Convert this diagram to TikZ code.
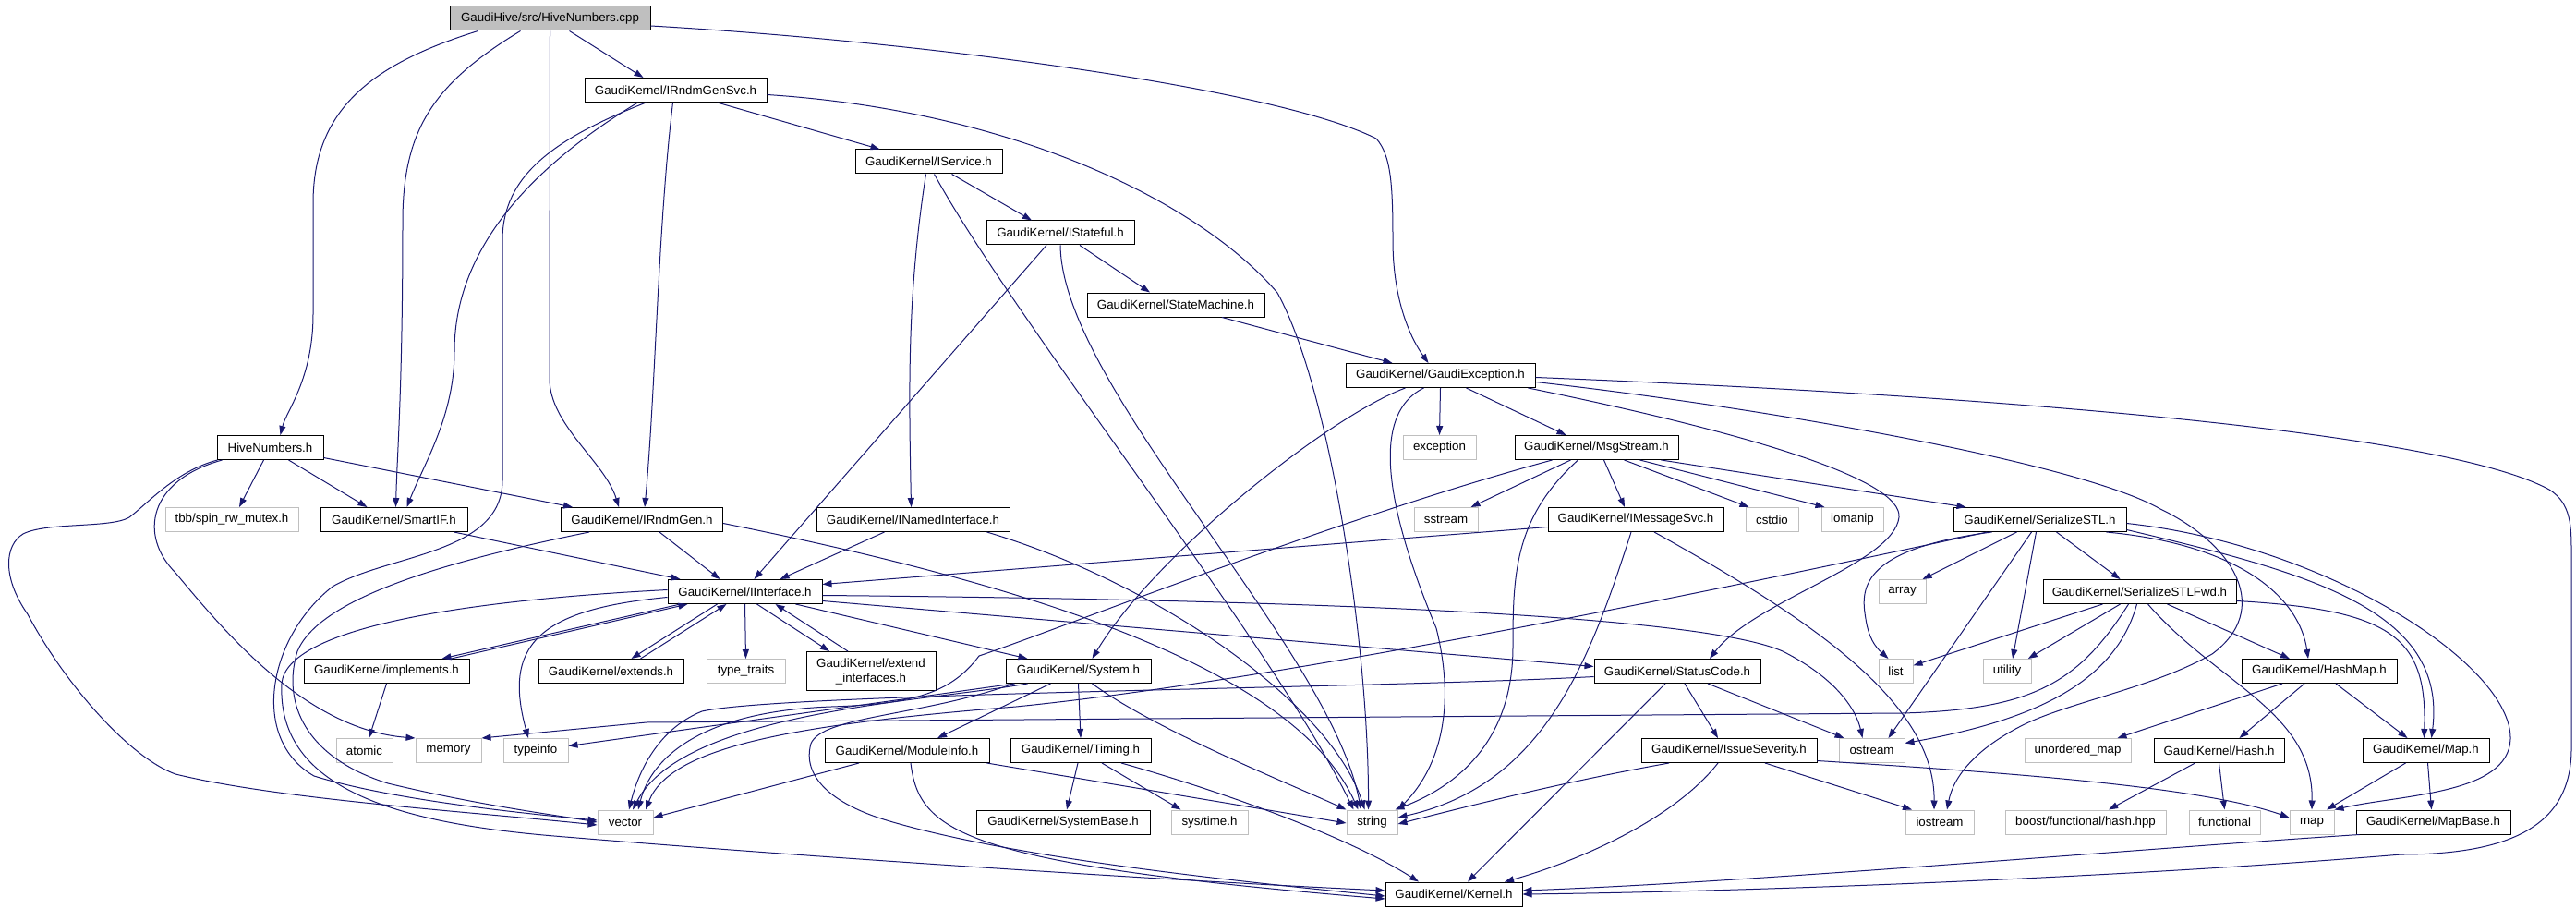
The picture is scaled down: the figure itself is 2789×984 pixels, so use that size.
\documentclass[tikz,border=0pt]{standalone}
\usepackage{fontspec}
\setmainfont{Liberation Sans}
\usetikzlibrary{arrows.meta}
\definecolor{edgeblue}{HTML}{191970}
\definecolor{sysgray}{HTML}{BFBFBF}

\begin{document}
\begin{tikzpicture}[x=1pt, y=-1pt,
  file/.style={draw=black, line width=1pt, minimum height=26pt, inner sep=0pt, font=\fontsize{13.3}{16}\selectfont},
  sys/.style={file, draw=sysgray},
  edge/.style={draw=edgeblue, line width=1pt, -{Triangle[length=10pt,width=7pt]}}]
  \useasboundingbox (0,0) rectangle (2789,984);

  % headers
  \node[file, fill=sysgray, minimum width=217pt] (cpp) at (595.5,20) {GaudiHive/src/HiveNumbers.cpp};
  \node[file, minimum width=197pt] (rndmsvc) at (731.5,97.5) {GaudiKernel/IRndmGenSvc.h};
  \node[file, minimum width=159pt] (service) at (1005.5,175) {GaudiKernel/IService.h};
  \node[file, minimum width=160pt] (stateful) at (1148,252) {GaudiKernel/IStateful.h};
  \node[file, minimum width=192pt] (statemach) at (1273,330) {GaudiKernel/StateMachine.h};
  \node[file, minimum width=205pt] (gexc) at (1559.5,406.5) {GaudiKernel/GaudiException.h};
  \node[file, minimum width=115pt] (hiveh) at (292.5,484.5) {HiveNumbers.h};
  \node[sys, minimum width=79pt] (exception) at (1558.5,484.5) {exception};
  \node[file, minimum width=177pt] (msgstream) at (1728.5,484.5) {GaudiKernel/MsgStream.h};
  \node[sys, minimum width=144pt] (tbb) at (251,562.5) {tbb/spin\_rw\_mutex.h};
  \node[file, minimum width=159pt] (smartif) at (426.5,562.5) {GaudiKernel/SmartIF.h};
  \node[file, minimum width=175pt] (rndmgen) at (695,562.5) {GaudiKernel/IRndmGen.h};
  \node[file, minimum width=209pt] (inamed) at (988.5,562.5) {GaudiKernel/INamedInterface.h};
  \node[sys, minimum width=69pt] (sstream) at (1565.5,562.5) {sstream};
  \node[file, minimum width=190pt] (imsgsvc) at (1771,562.5) {GaudiKernel/IMessageSvc.h};
  \node[sys, minimum width=57pt] (cstdio) at (1918.5,562.5) {cstdio};
  \node[sys, minimum width=67pt] (iomanip) at (2005.5,562.5) {iomanip};
  \node[file, minimum width=187pt] (sstl) at (2208.5,562.5) {GaudiKernel/SerializeSTL.h};
  \node[file, minimum width=167pt] (iiface) at (806.5,640.5) {GaudiKernel/IInterface.h};
  \node[sys, minimum width=51pt] (array) at (2059.5,640.5) {array};
  \node[file, minimum width=209pt] (sstlfwd) at (2316.5,640.5) {GaudiKernel/SerializeSTLFwd.h};
  \node[file, minimum width=179pt] (implements) at (418.5,726.5) {GaudiKernel/implements.h};
  \node[file, minimum width=157pt] (extends) at (661.5,726.5) {GaudiKernel/extends.h};
  \node[sys, minimum width=85pt] (typetraits) at (807.5,726.5) {type\_traits};
  \node[file, minimum width=140pt, minimum height=42pt, align=center] (extendif) at (943,726.5) {GaudiKernel/extend\\\_interfaces.h};
  \node[file, minimum width=157pt] (system) at (1167.5,726.5) {GaudiKernel/System.h};
  \node[file, minimum width=180pt] (statuscode) at (1816,726.5) {GaudiKernel/StatusCode.h};
  \node[sys, minimum width=37pt] (list) at (2052.5,726.5) {list};
  \node[sys, minimum width=52pt] (utility) at (2173,726.5) {utility};
  \node[file, minimum width=168pt] (hashmap) at (2511,726.5) {GaudiKernel/HashMap.h};
  \node[sys, minimum width=61pt] (atomic) at (394.5,812.5) {atomic};
  \node[sys, minimum width=71pt] (memory) at (485.5,812.5) {memory};
  \node[sys, minimum width=70pt] (typeinfo) at (580,812.5) {typeinfo};
  \node[file, minimum width=178pt] (moduleinfo) at (982,812.5) {GaudiKernel/ModuleInfo.h};
  \node[file, minimum width=152pt] (timing) at (1170,812.5) {GaudiKernel/Timing.h};
  \node[file, minimum width=190pt] (issue) at (1872,812.5) {GaudiKernel/IssueSeverity.h};
  \node[sys, minimum width=71pt] (ostream) at (2026.5,812.5) {ostream};
  \node[sys, minimum width=115pt] (umap) at (2249.5,812.5) {unordered\_map};
  \node[file, minimum width=141pt] (hash) at (2402.5,812.5) {GaudiKernel/Hash.h};
  \node[file, minimum width=137pt] (maph) at (2626.5,812.5) {GaudiKernel/Map.h};
  \node[sys, minimum width=60pt] (vector) at (677,890) {vector};
  \node[file, minimum width=188pt] (sysbase) at (1151,890) {GaudiKernel/SystemBase.h};
  \node[sys, minimum width=83pt] (systime) at (1309.5,890) {sys/time.h};
  \node[sys, minimum width=55pt] (string) at (1485.5,890) {string};
  \node[sys, minimum width=74pt] (iostream) at (2100,890) {iostream};
  \node[sys, minimum width=174pt] (boosthash) at (2258,890) {boost/functional/hash.hpp};
  \node[sys, minimum width=77pt] (functional) at (2408.5,890) {functional};
  \node[sys, minimum width=48pt] (map) at (2503,890) {map};
  \node[file, minimum width=167pt] (mapbase) at (2634.5,890) {GaudiKernel/MapBase.h};
  \node[file, minimum width=148pt] (kernel) at (1574,968) {GaudiKernel/Kernel.h};

  % HiveNumbers.cpp
  \draw[edge] ([xshift=-78pt]cpp.south) .. controls (400,70) and (339,120) .. (339,220) -- (339,340) .. controls (339,410) and (310,445) .. ([xshift=11pt]hiveh.north);
  \draw[edge] ([xshift=-32pt]cpp.south) .. controls (470,90) and (436,140) .. (436,240) .. controls (436,420) and (430,490) .. ([xshift=2pt]smartif.north);
  \draw[edge] (cpp.south) -- (595,410) .. controls (595,460) and (655,500) .. ([xshift=-25pt]rndmgen.north);
  \draw[edge] ([xshift=21pt]cpp.south) -- ([xshift=-35pt]rndmsvc.north);
  \draw[edge] ([yshift=-8pt]cpp.east) .. controls (1000,45) and (1380,95) .. (1490,150) .. controls (1506,168) and (1508,200) .. (1508,260) .. controls (1508,330) and (1530,370) .. ([xshift=-13pt]gexc.north);

  % IRndmGenSvc.h
  \draw[edge] ([xshift=45pt]rndmsvc.south) -- ([xshift=-53pt]service.north);
  \draw[edge] ([xshift=-3pt]rndmsvc.south) .. controls (712,250) and (710,420) .. ([xshift=3pt]rndmgen.north);
  \draw[edge] ([xshift=-41pt]rndmsvc.south) .. controls (560,190) and (492,280) .. (492,380) .. controls (492,450) and (460,500) .. ([xshift=14pt]smartif.north);
  \draw[edge] ([xshift=-32pt]rndmsvc.south) .. controls (600,150) and (544,190) .. (544,260) -- (544,520) .. controls (544,600) and (420,600) .. (360,635) .. controls (290,690) and (270,800) .. (340,840) .. controls (420,865) and (560,880) .. ([yshift=2pt]vector.west);
  \draw[edge] ([yshift=-5pt]rndmsvc.east) .. controls (1100,120) and (1300,220) .. (1383,317) .. controls (1440,420) and (1482,700) .. ([xshift=-4pt]string.north);

  % IService.h, IStateful.h, StateMachine.h
  \draw[edge] ([xshift=25pt]service.south) -- ([xshift=-31pt]stateful.north);
  \draw[edge] ([xshift=-3pt]service.south) .. controls (982,320) and (984,420) .. ([xshift=-2pt]inamed.north);
  \draw[edge] ([xshift=6pt]service.south) .. controls (1100,350) and (1380,700) .. ([xshift=-20pt]string.north);
  \draw[edge] ([xshift=21pt]stateful.south) -- ([xshift=-28pt]statemach.north);
  \draw[edge] ([xshift=-15pt]stateful.south) -- ([xshift=10pt]iiface.north);
  \draw[edge] (stateful.south) .. controls (1150,420) and (1440,700) .. ([xshift=-12pt]string.north);
  \draw[edge] ([xshift=50pt]statemach.south) -- ([xshift=-52pt]gexc.north);

  % GaudiException.h
  \draw[edge] (gexc.south) -- (exception.north);
  \draw[edge] ([xshift=28pt]gexc.south) -- ([xshift=-33pt]msgstream.north);
  \draw[edge] ([xshift=-38pt]gexc.south) .. controls (1440,450) and (1250,600) .. ([xshift=15pt]system.north);
  \draw[edge] ([xshift=-18pt]gexc.south) .. controls (1480,450) and (1505,560) .. (1555,680) .. controls (1580,780) and (1550,840) .. (string.north east);
  \draw[edge] ([xshift=95pt]gexc.south) .. controls (1900,470) and (2060,520) .. (2056,560) .. controls (2050,610) and (1900,650) .. ([xshift=35pt]statuscode.north);
  \draw[edge] ([yshift=-7pt]gexc.east) .. controls (1900,440) and (2250,500) .. (2339,551) .. controls (2420,590) and (2460,660) .. (2395,708) .. controls (2330,745) and (2240,760) .. (2190,785) .. controls (2140,810) and (2115,840) .. ([xshift=8pt]iostream.north);
  \draw[edge] ([yshift=-2pt]gexc.east) .. controls (2200,430) and (2650,470) .. (2760,530) .. controls (2784,545) and (2784,570) .. (2784,600) -- (2784,810) .. controls (2784,880) and (2740,925) .. (2600,925) .. controls (2300,950) and (1900,965) .. (kernel.east);

  % MsgStream.h
  \draw[edge] ([xshift=-28pt]msgstream.south) -- ([xshift=27pt]sstream.north);
  \draw[edge] ([xshift=8pt]msgstream.south) -- ([xshift=-12pt]imsgsvc.north);
  \draw[edge] ([xshift=30pt]msgstream.south) -- ([xshift=-25pt]cstdio.north);
  \draw[edge] ([xshift=47pt]msgstream.south) -- ([xshift=-30pt]iomanip.north);
  \draw[edge] ([xshift=70pt]msgstream.south) -- ([xshift=-80pt]sstl.north);
  \draw[edge] ([xshift=-20pt]msgstream.south) .. controls (1640,560) and (1638,620) .. (1638,700) .. controls (1638,800) and (1580,850) .. ([xshift=-3pt]string.north east);
  \draw[edge] ([xshift=-48pt]msgstream.south) .. controls (1450,560) and (1150,680) .. (1060,710) .. controls (1030,750) and (990,762) .. (900,765) .. controls (760,770) and (705,820) .. ([xshift=14pt]vector.north);

  % IMessageSvc.h
  \draw[edge] ([yshift=-8pt]imsgsvc.west) -- ([yshift=8pt]iiface.east);
  \draw[edge] ([xshift=-5pt]imsgsvc.south) .. controls (1720,720) and (1670,850) .. ([yshift=5pt]string.east);
  \draw[edge] ([xshift=20pt]imsgsvc.south) .. controls (1960,670) and (2095,760) .. ([xshift=-6pt]iostream.north);

  % SerializeSTL.h
  \draw[edge] ([xshift=-25pt]sstl.south) -- ([xshift=22pt]array.north);
  \draw[edge] ([xshift=-52pt]sstl.south) .. controls (2010,595) and (2015,640) .. (2020,670) .. controls (2023,690) and (2030,700) .. ([xshift=-8pt]list.north);
  \draw[edge] ([xshift=-57pt]sstl.south) .. controls (1900,630) and (1400,735) .. (1100,765) .. controls (850,785) and (725,810) .. ([xshift=22pt]vector.north);
  \draw[edge] ([xshift=-9pt]sstl.south) -- ([xshift=18pt]ostream.north);
  \draw[edge] ([xshift=-4pt]sstl.south) -- ([xshift=6pt]utility.north);
  \draw[edge] ([xshift=18pt]sstl.south) -- ([xshift=-21pt]sstlfwd.north);
  \draw[edge] ([xshift=72pt]sstl.south) .. controls (2430,590) and (2490,650) .. ([xshift=-12pt]hashmap.north);
  \draw[edge] ([yshift=-11pt]sstl.east) .. controls (2500,620) and (2650,660) .. ([xshift=6pt]maph.north);
  \draw[edge] ([yshift=-4pt]sstl.east) .. controls (2520,590) and (2720,720) .. (2718,800) .. controls (2716,860) and (2600,860) .. (map.north east);

  % SerializeSTLFwd.h
  \draw[edge] ([xshift=-40pt]sstlfwd.south) -- (list);
  \draw[edge] ([xshift=-21pt]sstlfwd.south) -- (utility);
  \draw[edge] ([xshift=-12pt]sstlfwd.south) .. controls (2250,740) and (2200,768) .. (2060,772) -- (700,782) -- (memory.north east);
  \draw[edge] ([xshift=-3pt]sstlfwd.south) .. controls (2290,740) and (2200,780) .. ([yshift=8pt]ostream.east);
  \draw[edge] ([xshift=9pt]sstlfwd.south) .. controls (2400,740) and (2505,770) .. (map.north);
  \draw[edge] ([xshift=30pt]sstlfwd.south) -- ([xshift=-32pt]hashmap.north);
  \draw[edge] ([yshift=-10pt]sstlfwd.east) .. controls (2590,660) and (2628,690) .. ([xshift=-2pt]maph.north);

  % HashMap.h, Hash.h, Map.h, MapBase.h
  \draw[edge] ([xshift=-40pt]hashmap.south) -- ([xshift=43pt]umap.north);
  \draw[edge] ([xshift=-16pt]hashmap.south) -- ([xshift=22pt]hash.north);
  \draw[edge] ([xshift=18pt]hashmap.south) -- ([xshift=-20pt]maph.north);
  \draw[edge] ([xshift=-26pt]hash.south) -- ([xshift=25pt]boosthash.north);
  \draw[edge] (hash.south) -- (functional.north);
  \draw[edge] ([xshift=-22pt]maph.south) -- ([xshift=16pt]map.north);
  \draw[edge] ([xshift=2pt]maph.south) -- ([xshift=-2pt]mapbase.north);
  \draw[edge] ([xshift=-80pt]mapbase.south) .. controls (2300,920) and (1900,955) .. ([yshift=4pt]kernel.east);

  % IssueSeverity.h, StatusCode.h
  \draw[edge] ([xshift=-65pt]issue.south) .. controls (1700,845) and (1600,870) .. ([yshift=-2pt]string.east);
  \draw[edge] ([xshift=-12pt]issue.south) .. controls (1810,890) and (1700,935) .. ([xshift=55pt]kernel.north);
  \draw[edge] ([xshift=39pt]issue.south) -- ([xshift=-30pt]iostream.north);
  \draw[edge] ([yshift=-11pt]issue.east) .. controls (2150,835) and (2380,850) .. ([yshift=5pt]map.west);
  \draw[edge] ([xshift=-13pt]statuscode.south) -- ([xshift=15pt]kernel.north);
  \draw[edge] ([xshift=8pt]statuscode.south) -- ([xshift=-12pt]issue.north);
  \draw[edge] ([xshift=33pt]statuscode.south) -- ([xshift=-30pt]ostream.north);
  \draw[edge] ([yshift=-6pt]statuscode.west) .. controls (1500,745) and (850,750) .. (760,770) .. controls (710,790) and (690,840) .. ([xshift=4pt]vector.north);

  % IInterface.h
  \draw[edge] ([xshift=-70pt]iiface.south) -- ([xshift=60pt]implements.north);
  \draw[edge] ([xshift=70pt]implements.north) -- ([xshift=-62pt]iiface.south);
  \draw[edge] ([xshift=-30pt]iiface.south) -- ([xshift=22pt]extends.north);
  \draw[edge] ([xshift=32pt]extends.north) -- ([xshift=-20pt]iiface.south);
  \draw[edge] (iiface.south) -- (typetraits.north);
  \draw[edge] ([xshift=13pt]iiface.south) -- ([xshift=-45pt]extendif.north);
  \draw[edge] ([xshift=-25pt]extendif.north) -- ([xshift=33pt]iiface.south);
  \draw[edge] ([xshift=55pt]iiface.south) -- ([xshift=-55pt]system.north);
  \draw[edge] ([yshift=-10pt]iiface.east) -- ([yshift=5pt]statuscode.west);
  \draw[edge] ([yshift=-4pt]iiface.east) .. controls (1500,650) and (1850,670) .. (1930,705) .. controls (1990,735) and (2010,770) .. ([xshift=-10pt]ostream.north);
  \draw[edge] ([yshift=-6pt]iiface.west) .. controls (580,660) and (545,700) .. ([xshift=-8pt]typeinfo.north);
  \draw[edge] ([yshift=2pt]iiface.west) .. controls (500,650) and (310,680) .. (305,740) .. controls (300,850) and (420,890) .. (600,905) .. controls (900,930) and (1300,955) .. ([yshift=4pt]kernel.west);
  \draw[edge] (implements.south) -- ([xshift=5pt]atomic.north);

  % System.h, ModuleInfo.h, Timing.h
  \draw[edge] ([xshift=-30pt]system.south) -- ([xshift=33pt]moduleinfo.north);
  \draw[edge] (system.south) -- (timing.north);
  \draw[edge] ([xshift=15pt]system.south) .. controls (1250,790) and (1400,850) .. (string.north west);
  \draw[edge] ([xshift=-55pt]system.south) .. controls (1000,760) and (740,770) .. ([xshift=8pt]vector.north);
  \draw[edge] ([xshift=10pt]system.south west) -- ([yshift=5pt]typeinfo.east);
  \draw[edge] ([xshift=-70pt]system.south) .. controls (1000,775) and (890,775) .. (878,805) .. controls (868,840) and (900,870) .. (960,888) .. controls (1100,930) and (1350,955) .. ([yshift=-2pt]kernel.west);
  \draw[edge] ([xshift=-52pt]moduleinfo.south) -- ([yshift=5pt]vector.east);
  \draw[edge] ([xshift=-3pt]moduleinfo.south east) -- ([yshift=-1pt]string.west);
  \draw[edge] ([xshift=4pt]moduleinfo.south) .. controls (995,900) and (1040,935) .. ([yshift=-5pt]kernel.west);
  \draw[edge] ([xshift=-3pt]timing.south) -- ([xshift=4pt]sysbase.north);
  \draw[edge] ([xshift=23pt]timing.south) -- ([xshift=-31pt]systime.north);
  \draw[edge] ([xshift=44pt]timing.south) .. controls (1300,850) and (1450,900) .. ([xshift=-38pt]kernel.north);

  % HiveNumbers.h
  \draw[edge] ([xshift=-7pt]hiveh.south) -- ([xshift=8pt]tbb.north);
  \draw[edge] ([xshift=20pt]hiveh.south) -- ([xshift=-29pt]smartif.north);
  \draw[edge] ([yshift=-11pt]hiveh.east) -- ([xshift=-75pt]rndmgen.north);
  \draw[edge] ([xshift=-52pt]hiveh.south) .. controls (160,520) and (150,580) .. (190,620) .. controls (240,680) and (330,790) .. (memory.north west);
  \draw[edge] ([xshift=-57pt]hiveh.south) .. controls (190,510) and (160,545) .. (140,560) .. controls (120,572) and (50,565) .. (25,578) .. controls (5,590) and (2,625) .. (30,665) .. controls (70,740) and (140,820) .. (190,838) .. controls (300,865) and (500,878) .. ([yshift=-3pt]vector.west);

  % SmartIF.h, IRndmGen.h, INamedInterface.h
  \draw[edge] ([xshift=65pt]smartif.south) -- ([xshift=-70pt]iiface.north);
  \draw[edge] ([xshift=19pt]rndmgen.south) -- ([xshift=-27pt]iiface.north);
  \draw[edge] ([yshift=-4pt]rndmgen.east) .. controls (1100,630) and (1400,720) .. ([xshift=-15pt]string.north);
  \draw[edge] ([xshift=-57pt]rndmgen.south) .. controls (470,610) and (345,650) .. (322,705) .. controls (305,760) and (330,820) .. (420,848) .. controls (520,872) and (600,882) .. (vector.west);
  \draw[edge] ([xshift=-31pt]inamed.south) -- ([xshift=38pt]iiface.north);
  \draw[edge] ([xshift=80pt]inamed.south) .. controls (1250,630) and (1440,760) .. ([xshift=-8pt]string.north);
\end{tikzpicture}
\end{document}
